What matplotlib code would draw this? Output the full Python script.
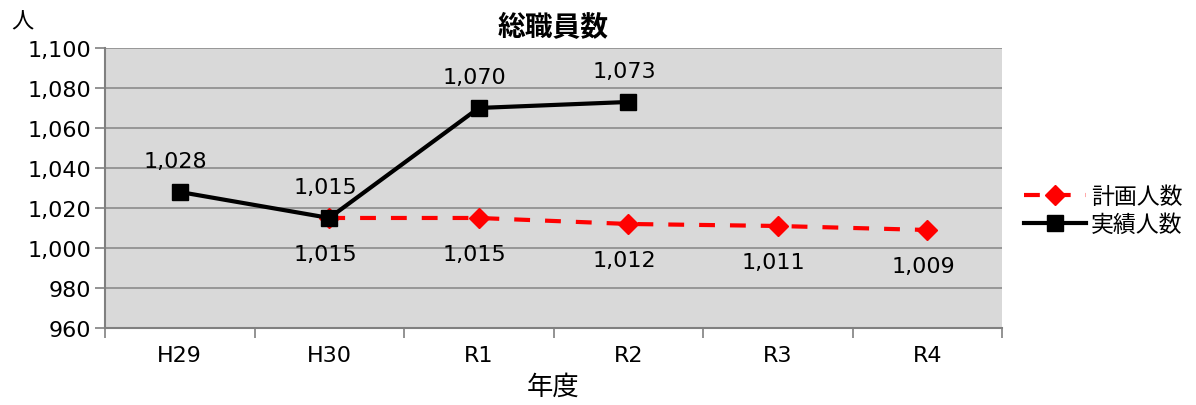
import matplotlib
matplotlib.use('Agg')
import matplotlib.pyplot as plt
from matplotlib.ticker import FuncFormatter

plt.rcParams['font.family'] = ['DejaVu Sans', 'Noto Sans CJK JP']

years = ['H29', 'H30', 'R1', 'R2', 'R3', 'R4']
plan_years = ['H30', 'R1', 'R2', 'R3', 'R4']
plan_values = [1015, 1015, 1012, 1011, 1009]
actual_years = ['H29', 'H30', 'R1', 'R2']
actual_values = [1028, 1015, 1070, 1073]

jp = ['Noto Sans CJK JP', 'DejaVu Sans']

fig = plt.figure(figsize=(11.96, 4.06), dpi=100)
ax = fig.add_axes([0.0878, 0.1897, 0.75, 0.6897])
ax.set_facecolor('#d9d9d9')

px = [years.index(y) for y in plan_years]
ax_ = [years.index(y) for y in actual_years]

ax.plot(px, plan_values, color='#ff0000', linestyle=(0, (3.8, 3.6)), linewidth=3,
        marker='D', markersize=10, label='計画人数', zorder=3)
ax.plot(ax_, actual_values, color='black', linewidth=3,
        marker='s', markersize=12, label='実績人数', zorder=4)

for x, v in zip(px, plan_values):
    ax.annotate(f'{v:,}', (x, v), xytext=(-3, -26), textcoords='offset points',
                ha='center', va='center', fontsize=16)
for x, v in zip(ax_, actual_values):
    ax.annotate(f'{v:,}', (x, v), xytext=(-3, 22), textcoords='offset points',
                ha='center', va='center', fontsize=16)

ax.set_xlim(-0.5, 5.5)
ax.set_ylim(960, 1100)
ax.set_yticks(range(960, 1101, 20))
ax.yaxis.set_major_formatter(FuncFormatter(lambda v, p: f'{int(v):,}'))
ax.set_xticks(range(len(years)))
ax.set_xticklabels(years)
ax.set_xticks([i - 0.5 for i in range(len(years) + 1)], minor=True)
ax.tick_params(axis='x', which='major', length=0, labelsize=16, pad=12)
ax.tick_params(axis='x', which='minor', length=7, color='#808080', width=1.2)
ax.tick_params(axis='y', length=7, color='#808080', width=1.2, labelsize=16, pad=3)

ax.grid(axis='y', color='#8c8c8c', linewidth=1.2)
ax.set_axisbelow(True)
for s in ['top', 'right']:
    ax.spines[s].set_visible(False)
for s in ['left', 'bottom']:
    ax.spines[s].set_color('#808080')
    ax.spines[s].set_linewidth(1.5)

ax.set_title('総職員数', fontsize=20, fontweight='bold', pad=9, family=jp)
ax.set_xlabel('年度', fontsize=19, labelpad=6, family=jp)
fig.text(0.0185, 0.945, '人', fontsize=16, ha='center', va='center', family=jp)

ax.legend(loc='center left', bbox_to_anchor=(1.025, 0.42), frameon=False,
          prop={'family': jp, 'size': 16.5}, handlelength=2.7, handletextpad=0.2,
          labelspacing=0.2, borderpad=0, borderaxespad=0)

fig.savefig('out.png', dpi=100)
